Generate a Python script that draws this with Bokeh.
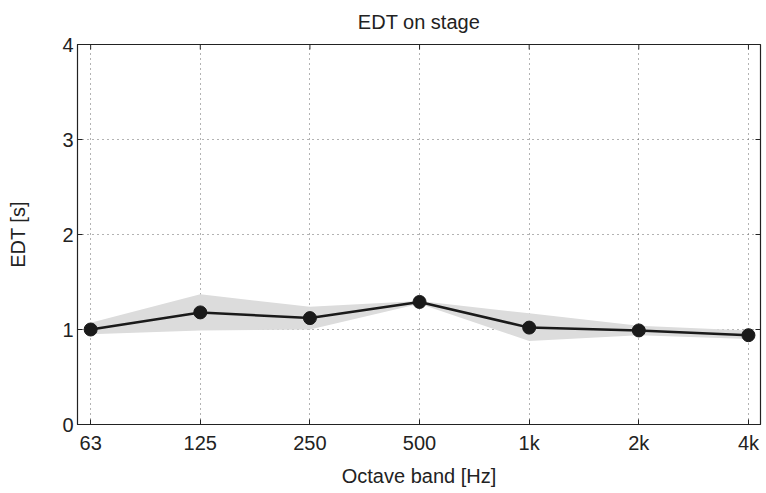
import math
from bokeh.plotting import figure
from bokeh.models import FixedTicker, Range1d
from bokeh.embed import file_html
from bokeh.resources import INLINE

bands = ["63", "125", "250", "500", "1k", "2k", "4k"]
edt_mean = [1.00, 1.18, 1.12, 1.29, 1.02, 0.99, 0.94]
edt_upper = [1.07, 1.37, 1.24, 1.30, 1.17, 1.04, 0.99]
edt_lower = [0.95, 0.99, 1.00, 1.27, 0.88, 0.94, 0.90]
y_ticks = [0, 1, 2, 3, 4]

xs = list(range(len(bands)))
X_START, X_END = -0.12, 6.11
Y_START, Y_END = 0, 4
FONT = "Liberation Sans"
INK = "#222222"

p = figure(width=766, height=493, output_backend="svg", toolbar_location=None,
           x_range=Range1d(X_START, X_END), y_range=Range1d(Y_START, Y_END),
           min_border_left=77, min_border_right=6, min_border_top=0, min_border_bottom=69)

p.title.text = "EDT on stage"
p.title.align = "center"
p.title.vertical_align = "top"
p.title.text_font = FONT
p.title.text_font_size = "20px"
p.title.text_font_style = "normal"
p.title.text_color = INK
p.title.standoff = 20
p.title.offset = 12

p.outline_line_color = INK
p.outline_line_width = 1.2

p.varea(x=xs, y1=edt_lower, y2=edt_upper, fill_color="#dcdcdc", fill_alpha=1.0)
p.line(xs, edt_mean, line_color="#1a1a1a", line_width=2.5)
p.scatter(xs, edt_mean, size=13, fill_color="#1a1a1a", line_color="#1a1a1a")

for ax in (p.xaxis[0], p.yaxis[0]):
    ax.major_tick_in = 5
    ax.major_tick_out = 0
    ax.minor_tick_in = 0
    ax.minor_tick_out = 0
    ax.axis_line_color = INK
    ax.major_tick_line_color = INK
    ax.major_label_text_font = FONT
    ax.major_label_text_font_size = "20px"
    ax.major_label_text_color = INK
    ax.axis_label_text_font = FONT
    ax.axis_label_text_font_size = "20px"
    ax.axis_label_text_font_style = "normal"
    ax.axis_label_text_color = INK

p.xaxis.ticker = FixedTicker(ticks=xs)
p.xaxis.major_label_overrides = {i: b for i, b in enumerate(bands)}
p.xaxis.axis_label = "Octave band [Hz]"
p.xaxis.major_label_standoff = 7
p.xaxis.axis_label_standoff = 8

p.yaxis.ticker = FixedTicker(ticks=y_ticks)
p.yaxis.axis_label = "EDT [s]"
p.yaxis.major_label_standoff = 4
p.yaxis.axis_label_standoff = 30

# mirrored inward ticks on the top and right frame edges
p.ray(x=xs, y=[Y_END] * len(xs), length=5, length_units="screen",
      angle=-math.pi / 2, line_color=INK, line_width=1)
p.ray(x=[X_END] * len(y_ticks), y=y_ticks, length=5, length_units="screen",
      angle=math.pi, line_color=INK, line_width=1)

for g in (p.xgrid[0], p.ygrid[0]):
    g.grid_line_color = "#666666"
    g.grid_line_dash = "1 4"
    g.grid_line_width = 1
p.ygrid.ticker = FixedTicker(ticks=[1, 2, 3])

open("out.html", "w").write(file_html(p, INLINE))
